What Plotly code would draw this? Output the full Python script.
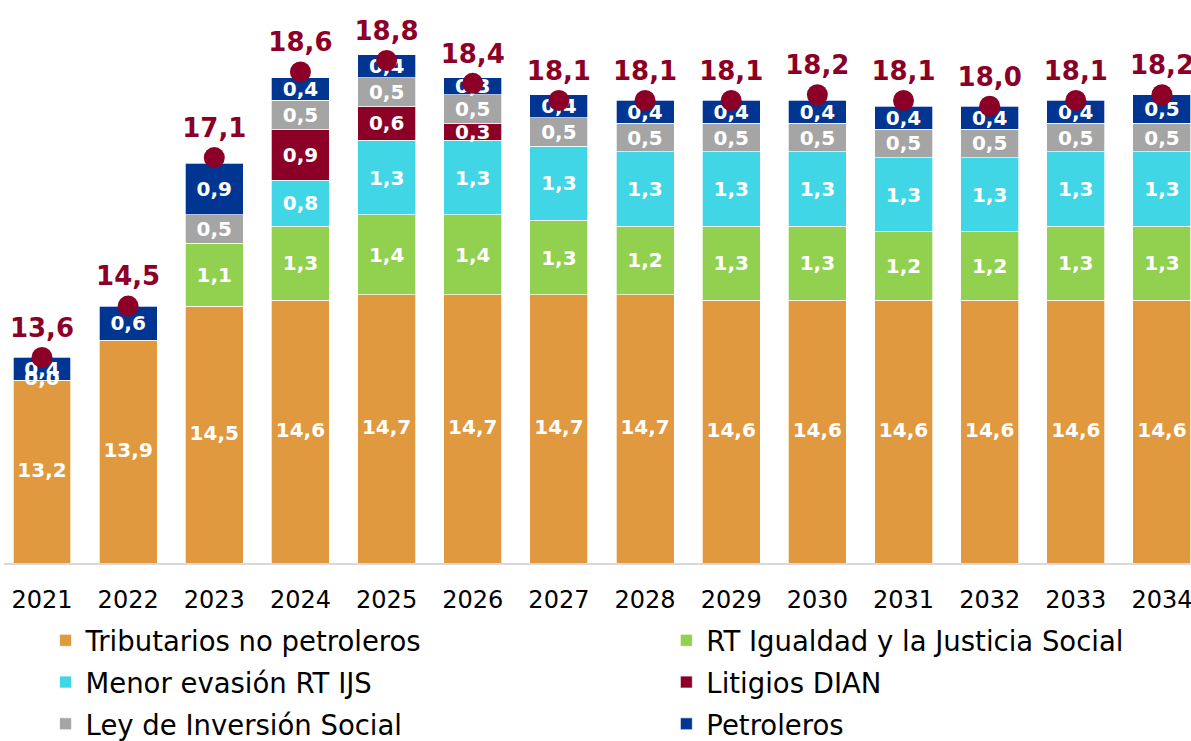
import plotly.graph_objects as go

years = ["2021", "2022", "2023", "2024", "2025", "2026", "2027", "2028",
         "2029", "2030", "2031", "2032", "2033", "2034"]

tributarios = [13.2, 13.9, 14.5, 14.6, 14.7, 14.7, 14.7, 14.7, 14.6, 14.6, 14.6, 14.6, 14.6, 14.6]
rt_ijs = [0.0, None, 1.1, 1.3, 1.4, 1.4, 1.3, 1.2, 1.3, 1.3, 1.2, 1.2, 1.3, 1.3]
menor_evasion = [None, None, None, 0.8, 1.3, 1.3, 1.3, 1.3, 1.3, 1.3, 1.3, 1.3, 1.3, 1.3]
litigios = [None, None, None, 0.9, 0.6, 0.3, None, None, None, None, None, None, None, None]
ley_inversion = [None, None, 0.5, 0.5, 0.5, 0.5, 0.5, 0.5, 0.5, 0.5, 0.5, 0.5, 0.5, 0.5]
petroleros = [0.4, 0.6, 0.9, 0.4, 0.4, 0.3, 0.4, 0.4, 0.4, 0.4, 0.4, 0.4, 0.4, 0.5]
totales = [13.6, 14.5, 17.1, 18.6, 18.8, 18.4, 18.1, 18.1, 18.1, 18.2, 18.1, 18.0, 18.1, 18.2]

Y_MIN = 10
Y_MAX = 19.86

# (name, values, colour, legend column)
series = [
    ("Tributarios no petroleros", tributarios, "#E0993E", "legend"),
    ("RT Igualdad y la Justicia Social", rt_ijs, "#92D050", "legend2"),
    ("Menor evasión RT IJS", menor_evasion, "#41D6E5", "legend"),
    ("Litigios DIAN", litigios, "#8C0028", "legend2"),
    ("Ley de Inversión Social", ley_inversion, "#A5A5A5", "legend"),
    ("Petroleros", petroleros, "#003591", "legend2"),
]

FONT = "DejaVu Sans"
LABEL_FONT = dict(color="white", size=20, family=FONT)

fig = go.Figure()
for i, (name, vals, color, leg) in enumerate(series):
    show_text = i != 0
    fig.add_trace(go.Bar(
        x=years, y=vals, name=name, legend=leg, legendgroup=name,
        marker=dict(color=color, line=dict(color="white", width=0.7)),
        texttemplate="<b>%{y:.1f}</b>" if show_text else None,
        textposition="inside" if show_text else "none",
        insidetextanchor="middle",
        constraintext="none",
        textfont=LABEL_FONT,
        hoverinfo="skip",
    ))

# Labels for the base series, centred on its visible part (axis starts at Y_MIN)
fig.add_trace(go.Scatter(
    x=years, y=[(Y_MIN + v) / 2 for v in tributarios],
    customdata=tributarios,
    mode="text", texttemplate="<b>%{customdata:.1f}</b>",
    textfont=LABEL_FONT, showlegend=False, hoverinfo="skip",
))

# Labels for zero-height segments
zero_x = [y for y, v in zip(years, rt_ijs) if v == 0]
zero_y = [t for t, v in zip(tributarios, rt_ijs) if v == 0]
fig.add_trace(go.Scatter(
    x=zero_x, y=zero_y, mode="text",
    customdata=[0.0] * len(zero_x),
    texttemplate="<b>%{customdata:.1f}</b>",
    textfont=LABEL_FONT, showlegend=False, hoverinfo="skip",
))

fig.add_trace(go.Scatter(
    x=years, y=totales, mode="markers+text",
    marker=dict(color="#8C0028", size=21),
    texttemplate="<b>%{y:.1f}</b>",
    textposition="top center",
    textfont=dict(color="#8C0028", size=26, family=FONT),
    showlegend=False, hoverinfo="skip", cliponaxis=False,
))

legend_common = dict(
    orientation="v",
    yanchor="top", xanchor="left",
    font=dict(size=27.5, family=FONT, color="#000000"),
    traceorder="grouped",
    tracegroupgap=3,
    bgcolor="rgba(0,0,0,0)",
)

fig.update_layout(
    barmode="stack",
    bargap=0.327,
    separators=",.",
    width=1191, height=741,
    margin=dict(l=4, r=0, t=0, b=178, autoexpand=False),
    paper_bgcolor="white", plot_bgcolor="white",
    font=dict(family=FONT, color="#000000"),
    xaxis=dict(
        type="category",
        range=[-0.441, 13.337],
        showgrid=False,
        showline=True, linecolor="#D9D9D9", linewidth=1.5,
        ticks="",
        ticklabelstandoff=14,
        automargin=False,
        tickfont=dict(size=24, family=FONT, color="#000000"),
    ),
    yaxis=dict(
        range=[Y_MIN, Y_MAX],
        visible=False,
        showgrid=False,
        automargin=False,
    ),
    legend=dict(x=0.035, y=-0.094, **legend_common),
    legend2=dict(x=0.558, y=-0.094, **legend_common),
    showlegend=True,
)

fig.write_html("out.html", config={"displayModeBar": False},
               post_script="document.body.style.margin='0';")
